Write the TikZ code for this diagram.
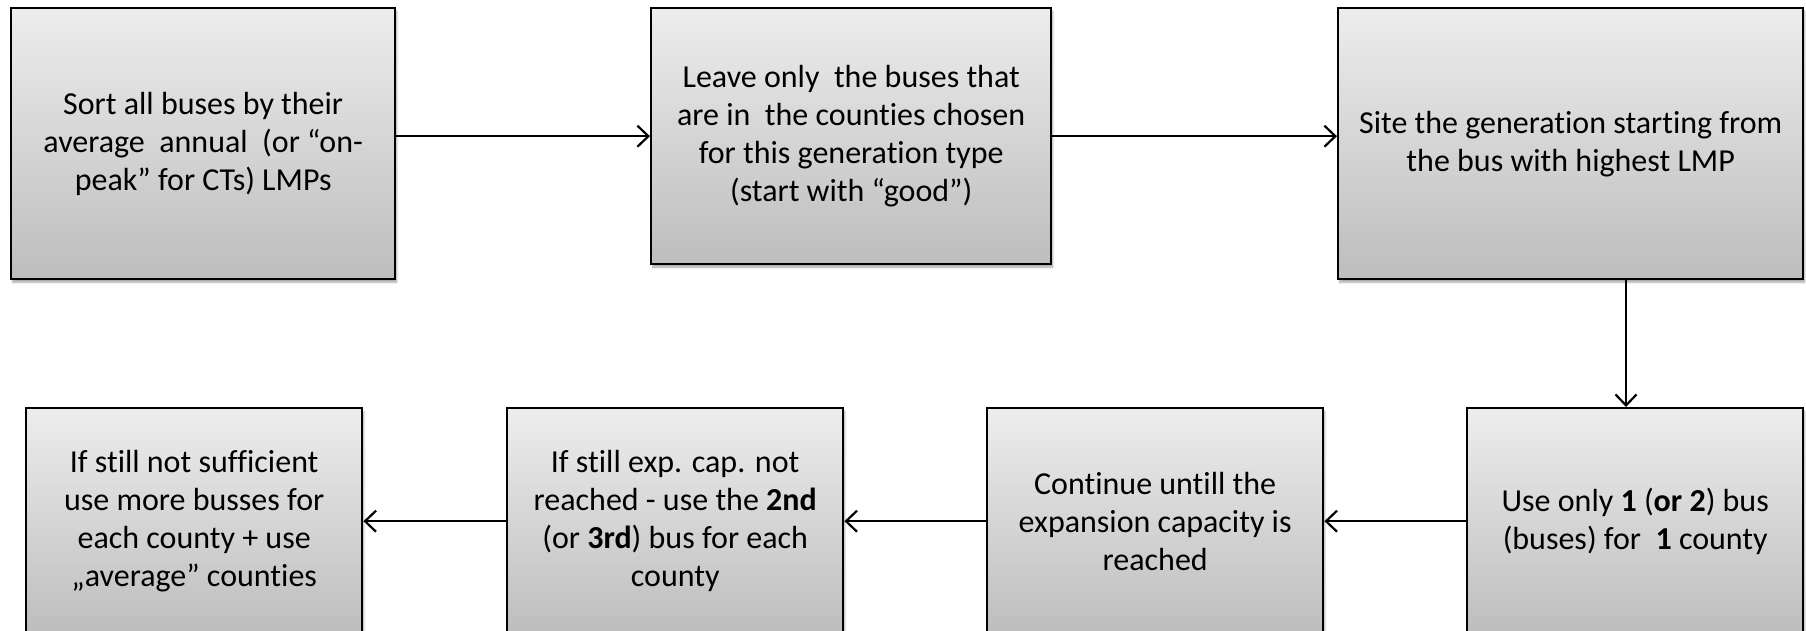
\documentclass[tikz,border=0pt]{standalone}
\usepackage{fontspec}
\setmainfont[Ligatures=NoCommon]{Carlito}
\usetikzlibrary{arrows.meta,shadows.blur}
\definecolor{boxtop}{HTML}{EDEDED}
\definecolor{boxbot}{HTML}{BDBDBD}
\begin{document}
\begin{tikzpicture}[x=1pt,y=-1pt,
  stepbox/.style={draw=black, line width=2.4pt, rectangle, anchor=north west,
    top color=boxtop, bottom color=boxbot, align=center, inner sep=0pt,
    font=\fontsize{32}{38}\selectfont,
    blur shadow={shadow xshift=1.5pt, shadow yshift=-3pt, shadow blur steps=6, shadow opacity=35}},
  flow/.style={line width=2.2pt, -{Straight Barb[length=11pt,width=21pt,line width=2.2pt]}}]
\useasboundingbox (0,0) rectangle (1806,630);

% upper row
\node[stepbox, minimum width=384pt, minimum height=271pt] (sort) at (10,7)
  {Sort all buses by their\\average\ \ annual\ \ (or “on-\\peak” for CTs) LMPs};
\node[stepbox, minimum width=400pt, minimum height=256pt] (leave) at (650,7)
  {Leave only\ \ the buses that\\are in\ \ the counties chosen\\for this generation type\\(start with “good”)};
\node[stepbox, minimum width=465pt, minimum height=271pt] (site) at (1337,7)
  {Site the generation starting from\\the bus with highest LMP};

% lower row (runs past the bottom edge)
\node[stepbox, minimum width=336pt, minimum height=226pt] (use) at (1466,407)
  {Use only \textbf{1} (\textbf{or 2}) bus\\(buses) for\ \ \textbf{1} county};
\node[stepbox, minimum width=336pt, minimum height=226pt] (cont) at (986,407)
  {Continue untill the\\expansion capacity is\\reached};
\node[stepbox, minimum width=336pt, minimum height=226pt] (still) at (506,407)
  {If still exp. cap. not\\reached - use the \textbf{2nd}\\(or \textbf{3rd}) bus for each\\county};
\node[stepbox, minimum width=336pt, minimum height=226pt] (more) at (25,407)
  {If still not sufficient\\use more busses for\\each county + use\\„average” counties};

% connectors
\coordinate (drop) at (1626,0);
\draw[flow] (leave.west -| sort.east) -- (leave.west);
\draw[flow] (leave.east) -- (leave.east -| site.west);
\draw[flow] (drop |- site.south) -- (drop |- use.north);
\draw[flow] (use.west) -- (cont.east);
\draw[flow] (cont.west) -- (still.east);
\draw[flow] (still.west) -- (more.east);
\end{tikzpicture}
\end{document}
